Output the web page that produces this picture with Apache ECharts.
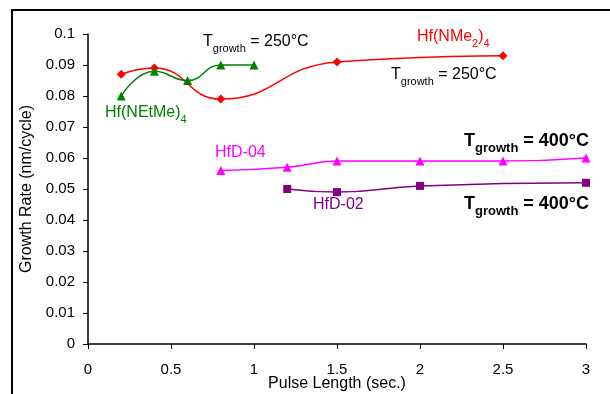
<!DOCTYPE html>
<html>
<head>
<meta charset="utf-8">
<script src="https://cdn.jsdelivr.net/npm/echarts@6/dist/echarts.min.js"></script>
<style>
  html, body { margin: 0; padding: 0; background: #fff; }
  #chart { width: 610px; height: 394px; }
</style>
</head>
<body>
<div id="chart"></div>
<script>
// 数据
var hfNMe2 = [[0.2, 0.087], [0.4, 0.089], [0.8, 0.079], [1.5, 0.091], [2.5, 0.093]];
var hfNEtMe = [[0.2, 0.080], [0.4, 0.088], [0.6, 0.085], [0.8, 0.090], [1.0, 0.090]];
var hfD04 = [[0.8, 0.056], [1.2, 0.057], [1.5, 0.059], [2.0, 0.059], [2.5, 0.059], [3.0, 0.060]];
var hfD02 = [[1.2, 0.050], [1.5, 0.049], [2.0, 0.051], [3.0, 0.052]];

(function () {
  var myChart = echarts.init(document.getElementById("chart"));
  var font = "Liberation Sans, Arial, sans-serif";
  // 带下标文字的样式
  function subRich(size, color, bold) {
    var w = bold ? "bold" : "normal";
    return {
      a: { fontSize: size, fontWeight: w, fontFamily: font, fill: color, verticalAlign: "top" },
      s: { fontSize: size - 5, fontWeight: w, fontFamily: font, fill: color, verticalAlign: "top", padding: [Math.round(size * 0.55), 0, 0, 0] }
    };
  }
  var option = {
    animation: false,
    grid: { left: 88, right: 24, top: 34, bottom: 50, outerBoundsMode: "none", containLabel: false },
    xAxis: {
      type: "value",
      min: 0, max: 3, interval: 0.5,
      name: "Pulse Length (sec.)",
      nameLocation: "middle",
      nameGap: 32,
      nameMoveOverlap: false,
      nameTextStyle: { fontSize: 16, fontFamily: font, color: "#000" },
      axisLine: { lineStyle: { color: "#000", width: 1.5 } },
      axisTick: { show: true, length: 5, lineStyle: { color: "#000" } },
      axisLabel: { fontSize: 15, fontFamily: font, color: "#000", margin: 18 },
      splitLine: { show: false }
    },
    yAxis: {
      type: "value",
      min: 0, max: 0.1, interval: 0.01,
      name: "Growth Rate (nm/cycle)",
      nameLocation: "middle",
      nameGap: 53,
      nameMoveOverlap: false,
      nameTextStyle: { fontSize: 16, fontFamily: font, color: "#000" },
      axisLine: { show: true, lineStyle: { color: "#000", width: 1.5 } },
      axisTick: { show: true, length: 5, lineStyle: { color: "#000" } },
      axisLabel: { fontSize: 15, fontFamily: font, color: "#000", margin: 13 },
      splitLine: { show: false }
    },
    series: [
      {
        name: "Hf(NMe2)4", type: "line", data: hfNMe2, smooth: 0.5,
        symbol: "diamond", symbolSize: 9,
        lineStyle: { color: "#ff0000", width: 1.5 },
        itemStyle: { color: "#ff0000" }
      },
      {
        name: "Hf(NEtMe)4", type: "line", data: hfNEtMe, smooth: 0.5,
        symbol: "triangle", symbolSize: 9,
        lineStyle: { color: "#008000", width: 1.5 },
        itemStyle: { color: "#008000" }
      },
      {
        name: "HfD-04", type: "line", data: hfD04, smooth: 0.5,
        symbol: "triangle", symbolSize: 9,
        lineStyle: { color: "#ff00ff", width: 1.5 },
        itemStyle: { color: "#ff00ff" }
      },
      {
        name: "HfD-02", type: "line", data: hfD02, smooth: 0.5,
        symbol: "rect", symbolSize: 8,
        lineStyle: { color: "#800080", width: 1.5 },
        itemStyle: { color: "#800080" }
      }
    ],
    graphic: [
      // 外框
      { type: "rect", shape: { x: 12, y: 10, width: 700, height: 500 }, style: { fill: "none", stroke: "#000", lineWidth: 2 }, silent: true },
      { type: "text", left: 203, top: 34, style: { text: "{a|T}{s|growth}{a| = 250°C}", rich: subRich(16, "#000", false) } },
      { type: "text", left: 391, top: 67, style: { text: "{a|T}{s|growth}{a| = 250°C}", rich: subRich(16, "#000", false) } },
      { type: "text", left: 464, top: 132, style: { text: "{a|T}{s|growth}{a| = 400°C}", rich: subRich(18, "#000", true) } },
      { type: "text", left: 464, top: 195, style: { text: "{a|T}{s|growth}{a| = 400°C}", rich: subRich(18, "#000", true) } },
      { type: "text", left: 417, top: 29, style: { text: "{a|Hf(NMe}{s|2}{a|)}{s|4}", rich: subRich(16, "#ff0000", false) } },
      { type: "text", left: 105, top: 105, style: { text: "{a|Hf(NEtMe)}{s|4}", rich: subRich(16, "#008000", false) } },
      { type: "text", left: 215, top: 145, style: { text: "HfD-04", fontSize: 16, fontFamily: font, fill: "#ff00ff" } },
      { type: "text", left: 313, top: 197, style: { text: "HfD-02", fontSize: 16, fontFamily: font, fill: "#800080" } }
    ]
  };
  myChart.setOption(option);
})();
</script>
</body>
</html>
